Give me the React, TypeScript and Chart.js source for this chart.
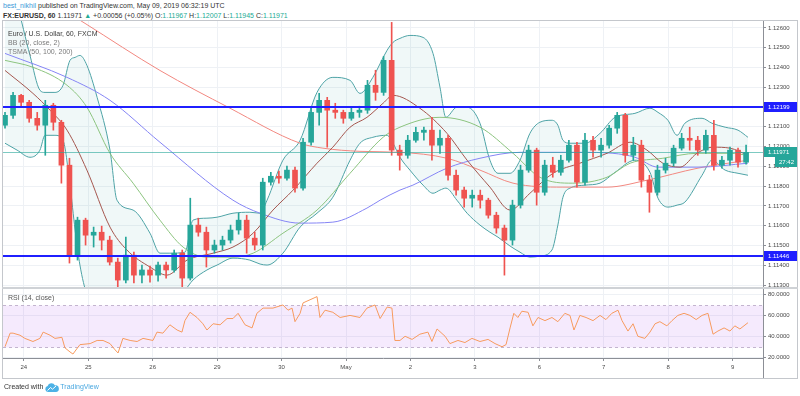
import React, { useEffect, useRef } from 'react';
import { Chart, registerables } from 'chart.js';

Chart.register(...registerables);

const FONT = '"Liberation Sans", Arial, Helvetica, sans-serif';

// ---------- x axis: hours since the first candle ----------
const xMin = -0.75;
const xMax = 282.3;
const dayTickHours = [7, 31, 55, 79, 103, 127, 151, 175, 199, 223, 247, 271];
const dayTickLabels = ['24', '25', '26', '29', '30', 'May', '2', '3', '6', '7', '8', '9'];

// ---------- candles (3h buckets) ----------
const candleHours = [
  0, 3, 6, 9, 12, 15, 18, 21, 24, 27, 30, 33, 36, 39, 42, 45, 48, 51, 54, 57,
  60, 63, 66, 69, 72, 75, 78, 81, 84, 87, 90, 93, 96, 99, 102, 105, 108, 111, 114, 117,
  120, 123, 126, 129, 132, 135, 138, 141, 144, 147, 150, 153, 156, 159, 162, 165, 168, 171, 174, 177,
  180, 183, 186, 189, 192, 195, 198, 201, 204, 207, 210, 213, 216, 219, 222, 225, 228, 231, 234, 237,
  240, 243, 246, 249, 252, 255, 258, 261, 264, 267, 270, 273, 276,
];
const openP = [
  1.12108, 1.12158, 1.12259, 1.12224, 1.12143, 1.12108, 1.12209, 1.12123, 1.11906, 1.11451,
  1.11628, 1.11552, 1.11567, 1.11527, 1.11416, 1.11325, 1.11451, 1.1135, 1.11376, 1.1135,
  1.11401, 1.11376, 1.11461, 1.11335, 1.11603, 1.11567, 1.11477, 1.11502, 1.11527, 1.11578,
  1.11628, 1.11537, 1.11502, 1.1182, 1.1185, 1.1184, 1.11881, 1.1179, 1.12022, 1.12173,
  1.12234, 1.12184, 1.12173, 1.12143, 1.12173, 1.12184, 1.1231, 1.12274, 1.12436, 1.11982,
  1.11956, 1.12032, 1.12072, 1.12083, 1.12007, 1.12042, 1.11855, 1.1178, 1.11739, 1.11754,
  1.11729, 1.11653, 1.11588, 1.11527, 1.11704, 1.11881, 1.11982, 1.11769, 1.11906, 1.1187,
  1.11931, 1.12007, 1.1182, 1.12032, 1.11982, 1.12007, 1.12093, 1.12158, 1.11956, 1.12007,
  1.1183, 1.11769, 1.11881, 1.11916, 1.11992, 1.12042, 1.12032, 1.11982, 1.12057, 1.11906,
  1.11931, 1.11982, 1.11921,
];
const highP = [
  1.12173, 1.12274, 1.12264, 1.12234, 1.12173, 1.12234, 1.12219, 1.12133, 1.11941, 1.11643,
  1.11638, 1.11593, 1.11598, 1.11547, 1.11436, 1.11542, 1.11466, 1.11401, 1.11396, 1.11416,
  1.11416, 1.11477, 1.11477, 1.11739, 1.11638, 1.11593, 1.11527, 1.11547, 1.11603, 1.11663,
  1.11653, 1.11567, 1.1184, 1.1187, 1.11876, 1.11901, 1.11896, 1.12042, 1.12204, 1.12269,
  1.12249, 1.12219, 1.12184, 1.12199, 1.12204, 1.12335, 1.12386, 1.12456, 1.12628, 1.12007,
  1.12057, 1.12098, 1.12098, 1.12148, 1.12083, 1.12057, 1.11881, 1.11795, 1.1178, 1.1178,
  1.11739, 1.11668, 1.11603, 1.11729, 1.11906, 1.12007, 1.11992, 1.11931, 1.11946, 1.11956,
  1.12032, 1.12022, 1.12067, 1.12052, 1.12042, 1.12108, 1.12173, 1.12168, 1.12047, 1.12032,
  1.11855, 1.11906, 1.11941, 1.12007, 1.12067, 1.12098, 1.12052, 1.12083, 1.12133, 1.11951,
  1.11997, 1.11992, 1.12007,
];
const lowP = [
  1.12093, 1.12143, 1.12199, 1.12123, 1.12083, 1.11956, 1.12083, 1.11815, 1.11411, 1.11426,
  1.11502, 1.11492, 1.11477, 1.11401, 1.1129, 1.1131, 1.1131, 1.1131, 1.11315, 1.1132,
  1.11335, 1.11365, 1.1129, 1.11325, 1.11547, 1.11391, 1.11461, 1.11477, 1.11512, 1.11557,
  1.11461, 1.11477, 1.11477, 1.11805, 1.11815, 1.1183, 1.11769, 1.1178, 1.12007, 1.12108,
  1.11997, 1.12143, 1.12118, 1.12133, 1.12148, 1.12168, 1.12234, 1.12259, 1.11956, 1.11881,
  1.11941, 1.12022, 1.12032, 1.11931, 1.11966, 1.1183, 1.11754, 1.11694, 1.11694, 1.11689,
  1.11638, 1.11562, 1.1135, 1.11502, 1.11689, 1.1187, 1.11704, 1.11754, 1.11845, 1.11855,
  1.11921, 1.11795, 1.11805, 1.11946, 1.11946, 1.11992, 1.12067, 1.11921, 1.11931, 1.11795,
  1.11668, 1.11754, 1.11866, 1.11901, 1.11982, 1.11982, 1.11956, 1.11966, 1.11881, 1.11891,
  1.11906, 1.11896, 1.11911,
];
const closeP = [
  1.12158, 1.12259, 1.12224, 1.12143, 1.12108, 1.12209, 1.12123, 1.11906, 1.11451, 1.11628,
  1.11552, 1.11567, 1.11527, 1.11416, 1.11325, 1.11451, 1.1135, 1.11376, 1.1135, 1.11401,
  1.11376, 1.11461, 1.11335, 1.11603, 1.11567, 1.11477, 1.11502, 1.11527, 1.11578, 1.11628,
  1.11537, 1.11502, 1.1182, 1.1185, 1.1184, 1.11881, 1.1179, 1.12022, 1.12173, 1.12234,
  1.12184, 1.12173, 1.12143, 1.12173, 1.12184, 1.1231, 1.12274, 1.12436, 1.11982, 1.11956,
  1.12032, 1.12072, 1.12083, 1.12007, 1.12042, 1.11855, 1.1178, 1.11739, 1.11754, 1.11729,
  1.11653, 1.11588, 1.11527, 1.11704, 1.11881, 1.11982, 1.11769, 1.11906, 1.1187, 1.11931,
  1.12007, 1.1182, 1.12032, 1.11982, 1.12007, 1.12093, 1.12158, 1.11956, 1.12007, 1.1183,
  1.11769, 1.11881, 1.11916, 1.11992, 1.12042, 1.12032, 1.11982, 1.12057, 1.11906, 1.11931,
  1.11982, 1.11921, 1.11971,
];

// ---------- Bollinger Bands (20, close, 2) ----------
const bandHours = [
  0, 4.5, 9.3, 13, 14.9, 18.6, 21.6, 24.2, 26.1, 27.9, 30.5, 34.3, 39.1, 41.7, 47.7, 54, 57.7,
  61.4, 67, 70, 75.2, 79, 84.9, 91.2, 95, 97.6, 103.5, 109.9, 116.2, 122.1, 128.5, 132.2, 137,
  142.3, 144.5, 147.1, 150.8, 155.7, 159.4, 162, 164.2, 168.3, 172.1, 176.9, 180.6, 183.6, 188.1,
  191.8, 195.5, 199.2, 203.7, 205.9, 207.8, 210.4, 216, 221.6, 227.2, 234.6, 240.2, 243.2, 246.9,
  250.3, 253.2, 259.6, 263.3, 268.2, 273, 276.7,
];
const bbUpper = [
  1.12865, 1.12714, 1.12461, 1.12285, 1.12274, 1.12274, 1.1231, 1.12436, 1.12451, 1.12461,
  1.12411, 1.12249, 1.11982, 1.11729, 1.11679, 1.11562, 1.11461, 1.11461, 1.11466, 1.11628,
  1.11638, 1.11643, 1.11663, 1.11668, 1.11663, 1.11729, 1.11931, 1.12032, 1.12274, 1.1235,
  1.12335, 1.12269, 1.1235, 1.12487, 1.12527, 1.12547, 1.12562, 1.12552, 1.12471, 1.123,
  1.12148, 1.12199, 1.12199, 1.12118, 1.11931, 1.11865, 1.11865, 1.11931, 1.12067, 1.12123,
  1.12133, 1.12108, 1.12032, 1.12017, 1.12017, 1.12067, 1.12148, 1.12168, 1.12194, 1.12173,
  1.12133, 1.12057, 1.12118, 1.12143, 1.12118, 1.12098, 1.12083, 1.12047,
];
const bbLower = [
  1.12017, 1.11982, 1.11946, 1.11982, 1.12057, 1.12057, 1.12032, 1.11805, 1.11578, 1.11401,
  1.11249, 1.11148, 1.11073, 1.11062, 1.11073, 1.11123, 1.11163, 1.11209, 1.11274, 1.11325,
  1.11376, 1.11401, 1.11436, 1.11426, 1.11406, 1.11401, 1.11461, 1.11593, 1.11663, 1.11744,
  1.11931, 1.12017, 1.12047, 1.12057, 1.12017, 1.11946, 1.11881, 1.11805, 1.11764, 1.1178,
  1.1179, 1.11729, 1.11663, 1.11603, 1.11567, 1.11542, 1.11497, 1.11466, 1.11441, 1.11446,
  1.11477, 1.11603, 1.11744, 1.1179, 1.11805, 1.11815, 1.1187, 1.11931, 1.1187, 1.11739,
  1.11694, 1.11704, 1.11719, 1.11855, 1.11931, 1.11881, 1.11865, 1.11855,
];
const basisHours = [
  0, 10.4, 16.8, 23.1, 30.5, 39.1, 45.4, 54, 60.3, 67.8, 77.5, 84.9, 92.4, 99.8, 107.3, 116.2,
  122.1, 128.5, 134.8, 140.8, 144.5, 154.5, 164.6, 172.1, 180.6, 188.1, 195.5, 204.1, 214.1,
  224.2, 232.8, 239.1, 245, 251.4, 257.7, 263.7, 270, 276.7,
];
const bbBasis = [
  1.12385, 1.12269, 1.12184, 1.12083, 1.11881, 1.11593, 1.11477, 1.11391, 1.1135, 1.11426,
  1.11461, 1.11492, 1.11562, 1.11679, 1.1178, 1.11916, 1.11997, 1.12098, 1.12148, 1.12219,
  1.12259, 1.12194, 1.12067, 1.11931, 1.11795, 1.11679, 1.11764, 1.11865, 1.11916, 1.11966,
  1.12022, 1.11982, 1.11916, 1.11896, 1.11966, 1.11997, 1.11992, 1.11956,
];

// ---------- TSMA (50, 100, 200) ----------
const sma50Hours = [
  0, 10.4, 23.1, 30.5, 39.1, 47.7, 57.7, 66.3, 75.2, 84.9, 92.4, 103.5, 116.2, 128.5, 140.8,
  147.1, 162, 176.9, 189.2, 199.2, 211.5, 224.2, 232.8, 245, 257.7, 270, 276.7,
];
const sma50 = [
  1.12436, 1.12401, 1.1231, 1.12199, 1.11966, 1.11815, 1.11628, 1.11492, 1.11441, 1.11441,
  1.11461, 1.11562, 1.11679, 1.11865, 1.12047, 1.12098, 1.12148, 1.12098, 1.11966, 1.11845,
  1.11815, 1.11845, 1.11916, 1.11941, 1.11966, 1.11966, 1.11956,
];
const sma100Hours = [
  0, 23.1, 39.1, 57.7, 84.9, 95, 109.9, 122.1, 134.8, 139.7, 147.1, 151.9, 164.6, 176.9, 191.8,
  214.1, 226.4, 234.6, 243.2, 258.1, 276.7,
];
const sma100 = [
  1.12471, 1.1235, 1.12234, 1.12022, 1.11729, 1.11663, 1.11613, 1.11618, 1.11689, 1.11729,
  1.1178, 1.11805, 1.11891, 1.11941, 1.11971, 1.11971, 1.11966, 1.11946, 1.11896, 1.11896,
  1.11916,
];
const sma200Hours = [
  0, 29.8, 57.7, 83.8, 109.9, 118.4, 132.2, 147.1, 164.6, 176.9, 189.2, 207.8, 224.2, 239.1,
  258.1, 276.7,
];
const sma200 = [
  1.12875, 1.12623, 1.12385, 1.12194, 1.12017, 1.11992, 1.11976, 1.11971, 1.11941, 1.11881,
  1.11815, 1.11795, 1.11795, 1.1183, 1.11891, 1.11931,
];

// ---------- levels / price axis ----------
const levelPrices = [1.12199, 1.11446];
const lastPrice = 1.11971;
const countdown = '27:42';
const priceTicks = [
  1.113, 1.114, 1.115, 1.116, 1.117, 1.118, 1.119, 1.12, 1.121, 1.122, 1.123, 1.124, 1.125, 1.126,
];
const priceMin = 1.1129;
const priceMax = 1.12635;

// ---------- RSI (14, close) ----------
const rsiHours = [
  0, 1.9, 3, 5.6, 7.4, 10.4, 13, 14.2, 16.8, 18.6, 21.2, 22.3, 24.2, 25.3, 27.9, 31.7, 34.3,
  36.5, 39.1, 41, 42.1, 43.9, 46.6, 49.2, 51.4, 55.1, 56.6, 58.8, 61.4, 64.1, 65.9, 67, 68.9,
  71.5, 73.7, 75.2, 77.5, 80.1, 82.7, 84.9, 86.8, 89.4, 92, 93.8, 96.1, 99.8, 103.5, 105.4,
  106.9, 108, 109.9, 111, 113.6, 116.2, 117.3, 119.2, 122.1, 124.8, 128.5, 132.2, 134.8, 137.8,
  139.7, 142.3, 144.1, 145.2, 147.1, 149, 151.6, 154.5, 157.5, 159, 160.9, 163.9, 165.7, 168.7,
  171.3, 173.9, 176.9, 179.9, 182.5, 185.1, 186.6, 188.1, 189.5, 191, 192.5, 194.8, 196.6,
  198.5, 201.1, 203.7, 205.9, 208.5, 210.4, 211.9, 214.1, 216.4, 219, 221.6, 223.8, 226, 228.3,
  229.8, 232, 233.9, 235.7, 238.3, 240.2, 242.1, 243.9, 246.5, 248.4, 250.6, 252.9, 255.1,
  257.4, 259.6, 261.8, 263.7, 265.5, 267.8, 270, 271.8, 273.7, 276.7,
];
const rsiValues = [
  30, 43, 43, 41, 38, 35, 38, 44, 41, 38, 39, 29, 25, 23, 32, 33, 36, 36, 33, 27, 24, 38, 36,
  35, 38, 36, 44, 43, 51, 46, 44, 55, 63, 58, 52, 46, 52, 51, 57, 57, 62, 51, 48, 62, 67, 67,
  70, 65, 67, 54, 62, 72, 75, 78, 58, 65, 63, 58, 60, 58, 67, 70, 57, 68, 67, 36, 36, 40, 37,
  42, 44, 35, 47, 40, 33, 36, 34, 38, 35, 37, 33, 30, 32, 48, 62, 58, 64, 63, 50, 58, 55, 58,
  54, 62, 60, 46, 60, 58, 55, 60, 56, 62, 65, 55, 45, 52, 40, 38, 44, 52, 54, 50, 55, 60, 62,
  60, 56, 60, 62, 42, 45, 48, 45, 50, 47, 53,
];
const rsiTicks = [20, 40, 60, 80];
const rsiMin = 19.2;
const rsiMax = 85.3;
const rsiUpper = 70;
const rsiLower = 30;

// ---------- styles ----------
const UP = '#26a69a';
const DOWN = '#ef5350';
const GRID = '#eef1f5';
const AXIS = '#8c8f96';
const LEVEL = '#1f1fff';
const LABEL = '#4a4a4a';

const pts = (xs: number[], ys: number[]) => xs.map((x, i) => ({ x, y: ys[i] }));

function dayTicks(s: any) {
  s.ticks = dayTickHours.map((v) => ({ value: v }));
}

const priceOverlay = {
  id: 'priceOverlay',
  afterDatasetsDraw(chart: any) {
    const { ctx, chartArea: a } = chart;
    const y = chart.scales.y;
    ctx.save();
    ctx.beginPath();
    ctx.rect(a.left, a.top, a.right - a.left, a.bottom - a.top);
    ctx.clip();
    const ly = Math.round(y.getPixelForValue(lastPrice)) + 0.5;
    ctx.strokeStyle = 'rgba(38,166,154,0.6)';
    ctx.lineWidth = 1;
    ctx.beginPath();
    ctx.moveTo(a.left, ly);
    ctx.lineTo(a.right, ly);
    ctx.stroke();
    ctx.strokeStyle = LEVEL;
    ctx.lineWidth = 2;
    for (const p of levelPrices) {
      const py = Math.round(y.getPixelForValue(p));
      ctx.beginPath();
      ctx.moveTo(a.left, py);
      ctx.lineTo(a.right, py);
      ctx.stroke();
    }
    ctx.restore();
  },
  afterDraw(chart: any) {
    const { ctx } = chart;
    const y = chart.scales.y;
    const box = (value: number, text: string, bg: string, x0: number, dy: number) => {
      const cy = Math.round(y.getPixelForValue(value)) + dy;
      ctx.fillStyle = bg;
      ctx.fillRect(x0, cy - 5, y.right - x0, 10);
      ctx.fillStyle = '#ffffff';
      ctx.font = `6px ${FONT}`;
      ctx.textBaseline = 'middle';
      ctx.textAlign = 'left';
      ctx.fillText(text, x0 + 4, cy + 0.5);
    };
    ctx.save();
    for (const p of levelPrices) box(p, p.toFixed(5), LEVEL, y.left + 1, 0);
    box(lastPrice, lastPrice.toFixed(5), UP, y.left + 1, 0);
    box(lastPrice, countdown, UP, y.left + 12, 10);
    ctx.restore();
  },
};

const rsiBand = {
  id: 'rsiBand',
  beforeDatasetsDraw(chart: any) {
    const { ctx, chartArea: a } = chart;
    const y = chart.scales.y;
    const t = Math.round(y.getPixelForValue(rsiUpper)) + 0.5;
    const b = Math.round(y.getPixelForValue(rsiLower)) + 0.5;
    ctx.save();
    ctx.fillStyle = 'rgba(176, 96, 240, 0.13)';
    ctx.fillRect(a.left, t, a.right - a.left, b - t);
    ctx.strokeStyle = '#c3b4cf';
    ctx.lineWidth = 1;
    ctx.setLineDash([3, 3]);
    for (const py of [t, b]) {
      ctx.beginPath();
      ctx.moveTo(a.left, py);
      ctx.lineTo(a.right, py);
      ctx.stroke();
    }
    ctx.restore();
  },
};

const line = (data: any[], color: string, extra: any = {}) => ({
  type: 'line',
  data,
  borderColor: color,
  borderWidth: 1,
  pointRadius: 0,
  cubicInterpolationMode: 'monotone',
  fill: false,
  ...extra,
});

function priceConfig(): any {
  const colors = closeP.map((c, i) => (c >= openP[i] ? UP : DOWN));
  const bodies = candleHours.map((h, i) => ({ x: h, y: [openP[i], closeP[i]] }));
  const wicks = candleHours.map((h, i) => ({ x: h, y: [lowP[i], highP[i]] }));
  return {
    type: 'line',
    data: {
      datasets: [
        { type: 'bar', data: bodies, backgroundColor: colors, barThickness: 5, grouped: false, minBarLength: 1, borderWidth: 0 },
        { type: 'bar', data: wicks, backgroundColor: colors, barThickness: 1, grouped: false, borderWidth: 0 },
        line(pts(basisHours, bbBasis), '#a5574f'),
        line(pts(sma50Hours, sma50), '#8cc47f'),
        line(pts(sma100Hours, sma100), '#8585f5'),
        line(pts(sma200Hours, sma200), '#f28880'),
        line(pts(bandHours, bbUpper), '#4ea3a6', { fill: '+1', backgroundColor: 'rgba(70,165,160,0.08)' }),
        line(pts(bandHours, bbLower), '#4ea3a6'),
      ],
    },
    options: {
      animation: false,
      responsive: false,
      events: [],
      layout: { padding: { left: 3, right: 3, top: 0, bottom: 0 } },
      plugins: { legend: { display: false }, tooltip: { enabled: false } },
      scales: {
        x: {
          type: 'linear',
          min: xMin,
          max: xMax,
          offset: false,
          afterBuildTicks: dayTicks,
          ticks: { display: false },
          grid: { color: GRID, drawTicks: false, offset: false },
          border: { display: false },
          afterFit: (s: any) => {
            s.height = 0;
            s.paddingLeft = 0;
            s.paddingRight = 0;
          },
        },
        y: {
          type: 'linear',
          position: 'right',
          min: priceMin,
          max: priceMax,
          afterBuildTicks: (s: any) => {
            s.ticks = priceTicks.map((v) => ({ value: v }));
          },
          ticks: {
            callback: (v: any) => Number(v).toFixed(5),
            color: LABEL,
            font: { family: FONT, size: 6 },
            padding: 2,
          },
          grid: { color: GRID, tickColor: AXIS, tickLength: 3 },
          border: { display: true, color: AXIS },
          afterFit: (s: any) => {
            s.width = 34;
            s.paddingTop = 0;
            s.paddingBottom = 0;
          },
        },
      },
    },
    plugins: [priceOverlay],
  };
}

function rsiConfig(): any {
  return {
    type: 'line',
    data: {
      datasets: [
        {
          data: pts(rsiHours, rsiValues),
          borderColor: '#f79a5e',
          borderWidth: 1,
          pointRadius: 0,
          tension: 0,
          fill: false,
        },
      ],
    },
    options: {
      animation: false,
      responsive: false,
      events: [],
      layout: { padding: { left: 3, right: 3, top: 0, bottom: 0 } },
      plugins: { legend: { display: false }, tooltip: { enabled: false } },
      scales: {
        x: {
          type: 'linear',
          min: xMin,
          max: xMax,
          offset: false,
          afterBuildTicks: dayTicks,
          ticks: {
            callback: (v: any) => dayTickLabels[dayTickHours.indexOf(Number(v))],
            color: LABEL,
            font: { family: FONT, size: 6 },
            padding: 3,
            maxRotation: 0,
            autoSkip: false,
          },
          grid: { color: GRID, tickColor: AXIS, tickLength: 3, offset: false },
          border: { display: true, color: AXIS },
          afterFit: (s: any) => {
            s.height = 20;
            s.paddingLeft = 0;
            s.paddingRight = 0;
          },
        },
        y: {
          type: 'linear',
          position: 'right',
          min: rsiMin,
          max: rsiMax,
          afterBuildTicks: (s: any) => {
            s.ticks = rsiTicks.map((v) => ({ value: v }));
          },
          ticks: {
            callback: (v: any) => Number(v).toFixed(4),
            color: LABEL,
            font: { family: FONT, size: 6 },
            padding: 2,
          },
          grid: { color: GRID, tickColor: AXIS, tickLength: 3 },
          border: { display: true, color: AXIS },
          afterFit: (s: any) => {
            s.width = 34;
            s.paddingTop = 0;
            s.paddingBottom = 0;
          },
        },
      },
    },
    plugins: [rsiBand],
  };
}

const G = '#22ab94';

export default function App() {
  const priceRef = useRef<HTMLCanvasElement>(null);
  const rsiRef = useRef<HTMLCanvasElement>(null);

  useEffect(() => {
    document.body.style.margin = '0';
    const c1 = new Chart(priceRef.current as HTMLCanvasElement, priceConfig());
    const c2 = new Chart(rsiRef.current as HTMLCanvasElement, rsiConfig());
    return () => {
      c1.destroy();
      c2.destroy();
    };
  }, []);

  const abs = (o: any) => ({ position: 'absolute' as const, ...o });

  return (
    <div style={abs({ left: 0, top: 0, width: 800, height: 396, background: '#fff', overflow: 'hidden', fontFamily: FONT })}>
      <div style={abs({ left: 3, top: 1, fontSize: 7, lineHeight: '10px', color: '#333', whiteSpace: 'nowrap' })}>
        <span style={{ color: '#3d9ad8' }}>best_nikhil</span> published on TradingView.com, May 09, 2019 06:32:19 UTC
      </div>
      <div style={abs({ left: 3, top: 11, fontSize: 7, lineHeight: '10px', color: '#333', whiteSpace: 'nowrap' })}>
        <b>FX:EURUSD, 60</b> 1.11971 <span style={{ color: G }}>▲</span> +0.00056 (+0.05%) O:
        <span style={{ color: G }}>1.11967</span> H:<span style={{ color: G }}>1.12007</span> L:
        <span style={{ color: G }}>1.11945</span> C:<span style={{ color: G }}>1.11971</span>
      </div>

      <div style={abs({ left: 2, top: 20, width: 796, height: 359, border: '1px solid #c4c7cc', boxSizing: 'border-box' })} />
      <div style={abs({ left: 2, top: 287, width: 796, height: 2, background: '#cfd2d6' })} />
      <div style={abs({ left: 763, top: 358, width: 1, height: 20, background: AXIS })} />

      <canvas ref={priceRef} width={800} height={266} style={abs({ left: 0, top: 21, width: 800, height: 266 })} />
      <canvas ref={rsiRef} width={800} height={89} style={abs({ left: 0, top: 289, width: 800, height: 89 })} />

      <div style={abs({ left: 8, top: 29, fontSize: 7, lineHeight: '9px', color: '#3c3c3c', whiteSpace: 'nowrap' })}>
        Euro / U.S. Dollar, 60, FXCM
      </div>
      <div style={abs({ left: 8, top: 38, fontSize: 7, lineHeight: '9px', color: '#7a7a7a', whiteSpace: 'nowrap' })}>
        BB (20, close, 2)
      </div>
      <div style={abs({ left: 8, top: 47, fontSize: 7, lineHeight: '9px', color: '#7a7a7a', whiteSpace: 'nowrap' })}>
        TSMA (50, 100, 200)
      </div>
      <div style={abs({ left: 8, top: 293, fontSize: 7, lineHeight: '9px', color: '#555', whiteSpace: 'nowrap' })}>
        RSI (14, close)
      </div>

      <div style={abs({ left: 4, top: 382, fontSize: 7, lineHeight: '10px', color: '#333', whiteSpace: 'nowrap', display: 'flex', alignItems: 'center' })}>
        <span>Created with</span>
        <svg width="14" height="9" viewBox="0 0 14 9" style={{ margin: '0 1px 0 2px' }}>
          <path d="M3 9 A3 3 0 0 1 2.6 3.1 A4 4 0 0 1 10 2.4 A3.3 3.3 0 0 1 11 9 Z" fill="#4db2e6" />
          <path d="M2.5 7.5 L5.5 4.5 L7.5 6.2 L11 3" stroke="#ffffff" strokeWidth="1" fill="none" />
        </svg>
        <span style={{ color: '#4aa8e0' }}>TradingView</span>
      </div>
    </div>
  );
}
